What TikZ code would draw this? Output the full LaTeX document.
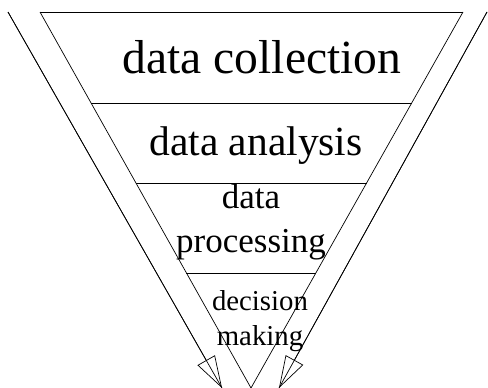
\documentclass[tikz,border=0pt]{standalone}
\usepackage{fontspec}
\setmainfont{Liberation Serif}
\usetikzlibrary{arrows.meta}
\usetikzlibrary{calc}

\tikzset{funnel/.style={black, line width=0.7pt},
  flow/.style={funnel, -{Triangle[open, length=32pt, width=20pt]}},
  stage/.style={anchor=base, inner sep=0pt, align=center}}

\begin{document}
\begin{tikzpicture}[x=1pt, y=-1pt]
\useasboundingbox (0,0) rectangle (488,388);

\coordinate (tl) at (40,12);
\coordinate (tr) at (463,12);
\coordinate (apex) at (251,388);
\coordinate (ol) at (8,12);
\coordinate (or) at (487,12);
\coordinate (lt) at (222,388);
\coordinate (rt) at (279,388);

% inner funnel and its levels
\draw[funnel] (tl)--(tr);
\draw[funnel] (tl)--(apex);
\draw[funnel] (tr)--(apex);
\foreach \f in {0.242,0.455,0.694}
  \draw[funnel] ($(tl)!\f!(apex)$) -- ($(tr)!\f!(apex)$);

% outer arrows
\draw[flow] (ol) -- (lt);
\draw[funnel] (ol) -- (lt);
\draw[flow] (or) -- (rt);
\draw[funnel] (or) -- (rt);

\node[stage, font=\fontsize{47.6}{50}\selectfont] (collect) at (262,74) {data collection};
\node[stage, font=\fontsize{41.5}{44}\selectfont] (analyse) at (256,155) {data analysis};
\node[stage, font=\fontsize{35}{44}\selectfont] (process) at (251,252) {data\\processing};
\node[stage, font=\fontsize{28.8}{35}\selectfont] (decide) at (260,345) {decision\\making};

\end{tikzpicture}
\end{document}
